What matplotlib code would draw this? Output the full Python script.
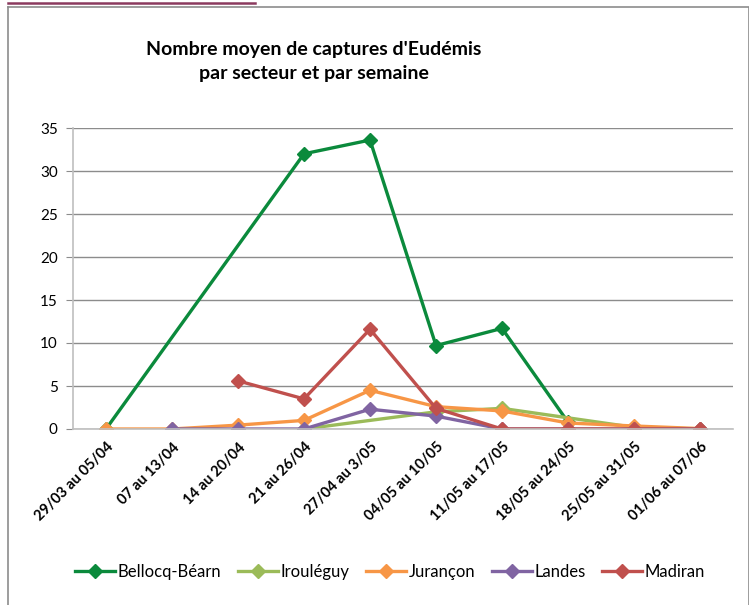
import matplotlib.pyplot as plt
import numpy as np

plt.rcParams['font.family'] = ['Lato', 'DejaVu Sans']

semaines = ['29/03 au 05/04', '07 au 13/04', '14 au 20/04', '21 au 26/04',
            '27/04 au 3/05', '04/05 au 10/05', '11/05 au 17/05',
            '18/05 au 24/05', '25/05 au 31/05', '01/06 au 07/06']

# None = pas de relevé (la courbe relie les points voisins)
bellocq = [0, None, None, 32.0, 33.6, 9.7, 11.7, 0.8, None, None]
irouleguy = [None, None, None, 0, None, 2.0, 2.4, None, 0.2, 0]
jurancon = [0, 0, 0.45, 1.0, 4.5, 2.6, 2.1, 0.7, 0.35, 0.05]
landes = [None, 0, 0, 0, 2.3, 1.5, 0, 0, 0, 0]
madiran = [None, None, 5.6, 3.5, 11.6, 2.4, 0, 0, 0, 0]

series = ['Bellocq-Béarn', 'Irouléguy', 'Jurançon', 'Landes', 'Madiran']
valeurs = [bellocq, irouleguy, jurancon, landes, madiran]
couleurs = ['#0B8A3C', '#9BBB59', '#F79646', '#8064A2', '#C0504D']

fig = plt.figure(figsize=(7.49, 6.05), dpi=100)
ax = fig.add_axes([73 / 749, 1 - 429 / 605, 660 / 749, 301 / 605])

# cadre gris et trait bordeaux en haut
fig.add_artist(plt.Line2D([8 / 749, 1, 1], [1 - 7 / 605, 1 - 7 / 605, 0],
                          color='#8C8C8C', lw=1.2))
fig.add_artist(plt.Line2D([8 / 749, 8 / 749], [1 - 7 / 605, 0],
                          color='#8C8C8C', lw=1.2))
fig.add_artist(plt.Line2D([8 / 749, 255 / 749], [1 - 3 / 605, 1 - 3 / 605],
                          color='#8B3A5E', lw=1.8))

x = np.arange(len(semaines))
for nom, v, c in zip(series, valeurs, couleurs):
    xs = [i for i, val in zip(x, v) if val is not None]
    ys = [val for val in v if val is not None]
    ax.plot(xs, ys, color=c, lw=2.4, marker='D', markersize=7, label=nom)

ax.set_xlim(-0.5, len(semaines) - 0.5)
ax.set_ylim(0, 35)
ax.set_yticks(range(0, 36, 5))
ax.yaxis.grid(True, color='#8C8C8C', lw=1)
ax.set_axisbelow(True)
ax.set_xticks(x)
ax.set_xticklabels(semaines, rotation=45, ha='right', rotation_mode='anchor',
                   fontsize=10.5, fontweight='bold')
ax.tick_params(axis='x', length=0, pad=8)
ax.tick_params(axis='y', length=5, color='#8C8C8C', labelsize=11, pad=6)
for s in ['top', 'right']:
    ax.spines[s].set_visible(False)
ax.spines['left'].set_color('#BFBFBF')
ax.spines['bottom'].set_color('#BFBFBF')
ax.spines['left'].set_linewidth(1.2)
ax.spines['bottom'].set_linewidth(1.2)

fig.text(314 / 749, 1 - 62 / 605,
         "Nombre moyen de captures d'Eudémis\npar secteur et par semaine",
         ha='center', va='center', fontsize=14, fontweight='bold',
         linespacing=1.5)

fig.legend(loc='center', bbox_to_anchor=(390 / 749, 1 - 572 / 605), ncol=5,
           frameon=False, fontsize=12, handlelength=2.4, columnspacing=1.0,
           handletextpad=0.15)

fig.savefig('out.png', dpi=100)
